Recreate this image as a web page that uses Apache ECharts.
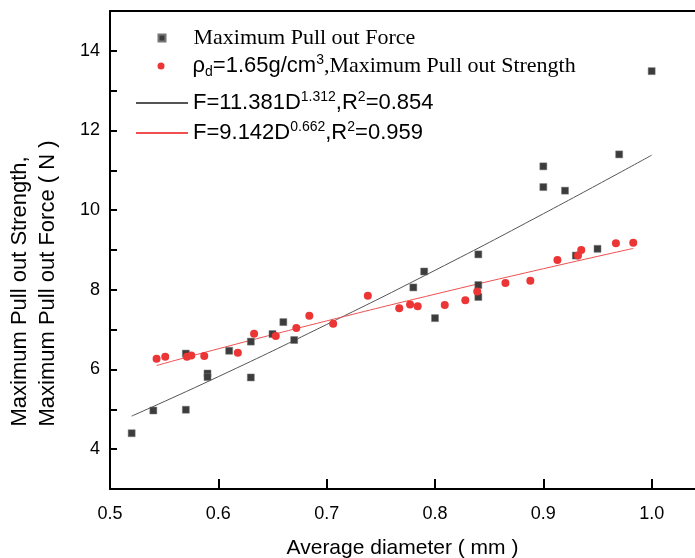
<!DOCTYPE html>
<html>
<head>
<meta charset="utf-8">
<script src="https://cdn.jsdelivr.net/npm/echarts@6/dist/echarts.min.js"></script>
<style>html,body{margin:0;padding:0;background:#fff}#c{width:695px;height:558px}</style>
</head>
<body>
<div id="c"></div>
<script>
// ---- data ----
var forceX = [0.52, 0.54, 0.57, 0.57, 0.59, 0.59, 0.61, 0.63, 0.63, 0.65, 0.66, 0.67, 0.78, 0.79, 0.80, 0.84, 0.84, 0.84, 0.90, 0.90, 0.92, 0.93, 0.95, 0.97, 1.00];
var forceY = [4.40, 4.97, 4.99, 6.40, 5.90, 5.81, 6.47, 6.70, 5.80, 6.89, 7.19, 6.74, 8.06, 8.46, 7.29, 8.89, 8.12, 7.82, 11.10, 10.58, 10.49, 8.86, 9.03, 11.40, 13.49];
var strengthX = [0.543, 0.551, 0.571, 0.575, 0.587, 0.618, 0.633, 0.653, 0.672, 0.684, 0.706, 0.738, 0.767, 0.777, 0.784, 0.809, 0.828, 0.839, 0.865, 0.888, 0.913, 0.932, 0.935, 0.967, 0.983];
var strengthY = [6.27, 6.32, 6.32, 6.35, 6.34, 6.42, 6.90, 6.84, 7.04, 7.35, 7.15, 7.85, 7.54, 7.63, 7.59, 7.62, 7.74, 7.96, 8.17, 8.23, 8.75, 8.86, 9.00, 9.17, 9.18];
var fitForceX = [0.52, 0.60, 0.70, 0.80, 0.90, 1.00];
var fitForceY = [4.83, 5.82, 7.13, 8.49, 9.91, 11.38];
var fitStrengthX = [0.543, 0.60, 0.70, 0.80, 0.90, 0.983];
var fitStrengthY = [6.10, 6.52, 7.22, 7.89, 8.53, 9.04];
var xTicks = [0.5, 0.6, 0.7, 0.8, 0.9, 1.0];
var yTickLabels = [4, 6, 8, 10, 12, 14];
var xTitle = 'Average diameter ( mm )';
var yTitle = ['Maximum Pull out Strength,', 'Maximum Pull out Force ( N )'];

function pairs(xs, ys) { return xs.map(function (x, i) { return [x, ys[i]]; }); }

var SANS = '"Liberation Sans", Arial, sans-serif';
var SERIF = '"Liberation Serif", "Times New Roman", serif';

var legendNames = {
  force: '{tp|Maximum Pull out Force}',
  strength: '{sp|ρ}{sub|d}{s|=1.65g/cm}{sup|3}{t|,Maximum Pull out Strength}',
  fitF: '{s|F=11.381D}{sup|1.312}{s|,R}{sup|2}{s|=0.854}',
  fitS: '{s|F=9.142D}{sup|0.662}{s|,R}{sup|2}{s|=0.959}'
};
var rich = {
  t: { fontFamily: SERIF, fontSize: 22, lineHeight: 26, color: '#000' },
  tp: { fontFamily: SERIF, fontSize: 22, lineHeight: 26, color: '#000', padding: [0, 0, 0, 23] },
  s: { fontFamily: SANS, fontSize: 22, lineHeight: 26, color: '#000' },
  sp: { fontFamily: SANS, fontSize: 22, lineHeight: 26, color: '#000', padding: [0, 0, 0, 23] },
  sup: { fontFamily: SANS, fontSize: 14, lineHeight: 13, verticalAlign: 'top', color: '#000' },
  sub: { fontFamily: SANS, fontSize: 14, lineHeight: 13, verticalAlign: 'bottom', color: '#000' }
};
function mkLegend(name, top, isLine) {
  var lg = {
    data: [name],
    left: isLine ? 135 : 157.5, top: top, orient: 'vertical',
    itemWidth: isLine ? 52 : 7, itemHeight: 7, itemGap: 0, padding: 0,
    selectedMode: false,
    formatter: function (n) { return legendNames[n]; },
    textStyle: { rich: rich }
  };
  if (isLine) {
    lg.itemStyle = { opacity: 0, color: 'rgba(0,0,0,0)', borderColor: 'rgba(0,0,0,0)', borderWidth: 0 };
  }
  return lg;
}

var axisBlack = { color: '#000', width: 2 };
var chart = echarts.init(document.getElementById('c'), null, { renderer: 'canvas' });
chart.setOption({
  animation: false,
  backgroundColor: '#fff',
  grid: { left: 110, right: 0, top: 11, bottom: 69, containLabel: false, outerBoundsMode: 'none' },
  legend: [mkLegend('force', 27, false), mkLegend('strength', 53, false), mkLegend('fitF', 90, true), mkLegend('fitS', 120, true)],
  xAxis: [{
    type: 'value', min: 0.5, max: 1.04, interval: 0.1,
    axisLine: { show: true, onZero: false, lineStyle: axisBlack },
    axisTick: { show: true, inside: true, length: 10, lineStyle: axisBlack, customValues: xTicks },
    axisLabel: { customValues: xTicks, formatter: function (v) { return v.toFixed(1); }, fontSize: 18, color: '#000', margin: 16, fontFamily: SANS },
    splitLine: { show: false },
    name: xTitle, nameLocation: 'middle', nameGap: 49,
    nameTextStyle: { fontSize: 21, color: '#000', fontFamily: SANS }
  }, {
    type: 'value', position: 'top', min: 0.5, max: 1.04,
    axisLine: { show: true, onZero: false, lineStyle: axisBlack },
    axisTick: { show: false }, axisLabel: { show: false }, splitLine: { show: false }
  }],
  yAxis: [{
    type: 'value', min: 3, max: 15, interval: 1,
    axisLine: { show: true, onZero: false, lineStyle: axisBlack },
    axisTick: { show: true, inside: true, length: 7, lineStyle: axisBlack },
    axisLabel: { customValues: yTickLabels, fontSize: 18, color: '#000', margin: 10, fontFamily: SANS },
    splitLine: { show: false },
    name: '{l|' + yTitle[0] + '}\n{l|' + yTitle[1] + '}',
    nameLocation: 'middle', nameGap: 48, nameRotate: 90,
    nameTextStyle: {
      color: '#000', fontFamily: SANS, fontSize: 22, lineHeight: 28, padding: [0, 67, 0, 0],
      rich: { l: { fontFamily: SANS, fontSize: 22, lineHeight: 28, align: 'left', color: '#000' } }
    }
  }],
  series: [
    { name: 'fitF', type: 'line', data: pairs(fitForceX, fitForceY), symbol: 'none', smooth: true,
      lineStyle: { color: '#555555', width: 1 }, itemStyle: { color: '#555555' }, z: 1 },
    { name: 'fitS', type: 'line', data: pairs(fitStrengthX, fitStrengthY), symbol: 'none', smooth: true,
      lineStyle: { color: '#f05050', width: 1 }, itemStyle: { color: '#f05050' }, z: 1 },
    { name: 'force', type: 'scatter', data: pairs(forceX, forceY), symbol: 'rect', symbolSize: 7,
      itemStyle: { color: '#3c3c3c', borderColor: '#777', borderWidth: 0.5, opacity: 1 }, z: 2 },
    { name: 'strength', type: 'scatter', data: pairs(strengthX, strengthY), symbol: 'circle', symbolSize: 8,
      itemStyle: { color: '#ec3535', opacity: 1 }, z: 3 }
  ]
});
</script>
</body>
</html>
